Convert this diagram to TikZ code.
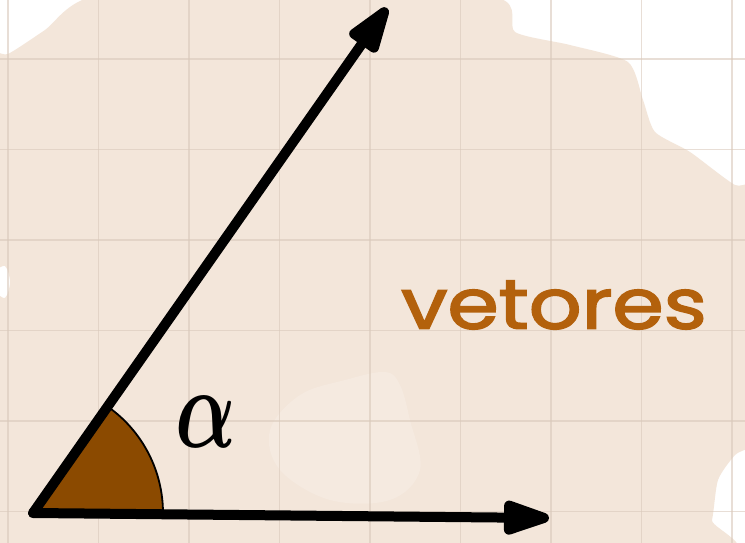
\documentclass[tikz,border=0pt]{standalone}
\usepackage{fontspec}
\usetikzlibrary{arrows.meta}
\newfontfamily\handfont[FakeBold=2.2]{Poppins}
\definecolor{paper}{HTML}{F3E6DA}
\definecolor{paperlight}{HTML}{F7EEE6}
\definecolor{gridc}{HTML}{D9C9BB}
\definecolor{anglefill}{HTML}{8B4A00}
\definecolor{wordc}{HTML}{B3610C}
\tikzset{
  vec/.style={line width=10pt, line cap=round, line join=round,
    -{Triangle[length=57pt,width=35pt,round]}},
  gridline/.style={draw=gridc, line width=1.6pt, opacity=0.6},
}
\begin{document}
\begin{tikzpicture}[x=1pt,y=-1pt]
\useasboundingbox (0,0) rectangle (745,543);
\fill[white] (0,0) rectangle (745,543);
\begin{scope}
\clip (0,0) rectangle (745,543);
% beige blob
\fill[paper] plot[smooth cycle, tension=0.4] coordinates {
  (-20,62) (8,54) (45,30) (95,-4) (300,-20) (498,-2) (515,32)
  (570,45) (628,62) (643,100) (655,132) (690,152) (735,185) (770,195)
  (770,420) (735,455) (718,480) (712,520) (700,560) (-20,560)
  (-20,305) (5,298) (10,282) (5,266) (-20,260)};
% lighter cloud
\fill[paperlight, opacity=0.5] plot[smooth cycle, tension=0.6] coordinates {
  (300,395) (345,380) (385,372) (400,385) (410,420) (420,470) (390,500)
  (330,500) (280,470) (270,430)};
% grid
\foreach \x in {8,98.5,189,279.5,370,460.5,551,641.5,732}
  \draw[gridline] (\x,0) -- (\x,543);
\foreach \y in {59,149.5,240,330.5,421,511.5}
  \draw[gridline] (0,\y) -- (745,\y);
\end{scope}
% vectors
\coordinate (O) at (33,513);
\coordinate (A) at (387,8);
\coordinate (B) at (549,518);
\filldraw[fill=anglefill, draw=black, line width=1.8pt]
  (O) -- ++(0.5:130) arc[start angle=0.5, end angle=-55, radius=130] -- cycle;
\draw[vec] (O) -- (A);
\draw[vec] (O) -- (B);
\node[inner sep=0pt] (alpha) at (206,422) {\scalebox{8}[11.5]{\boldmath$\alpha$}};
\node[text=wordc, inner sep=0pt] (word) at (554,305)
  {\scalebox{1.18}[1]{\handfont\fontsize{70}{70}\selectfont vetores}};
\end{tikzpicture}
\end{document}
